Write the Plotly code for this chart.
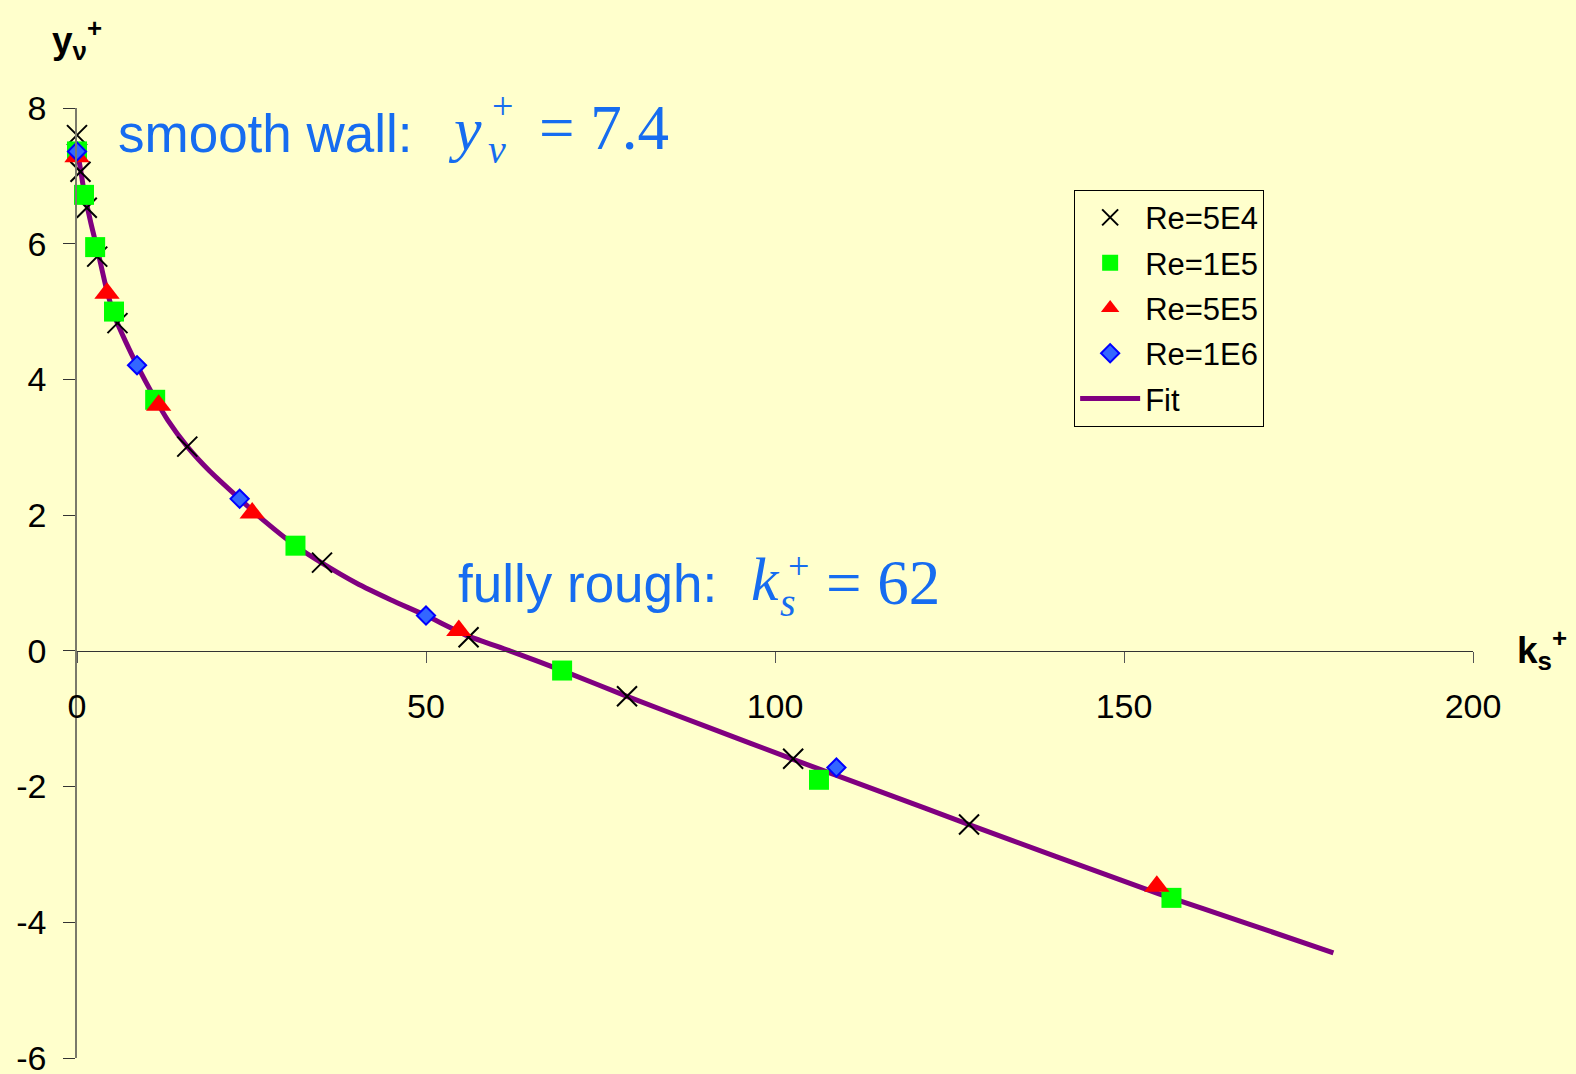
import plotly.graph_objects as go

# Measured points for each Reynolds number (ks+ , yv+)
ks_5e4 = [0.0, 0.5, 1.4, 2.9, 5.8, 15.8, 35.1, 56.1, 78.8, 102.6, 127.8]
yv_5e4 = [7.60, 7.06, 6.53, 5.81, 4.83, 3.01, 1.30, 0.20, -0.67, -1.59, -2.56]

ks_1e5 = [0.0, 1.0, 2.6, 5.3, 11.2, 31.3, 69.5, 106.3, 156.8]
yv_1e5 = [7.36, 6.72, 5.95, 5.00, 3.70, 1.55, -0.29, -1.90, -3.64]

ks_5e5 = [0.0, 4.3, 11.7, 25.1, 54.7, 154.7]
yv_5e5 = [7.28, 5.27, 3.62, 2.03, 0.30, -3.47]

ks_1e6 = [0.0, 8.6, 23.3, 50.0, 108.8]
yv_1e6 = [7.36, 4.21, 2.24, 0.52, -1.72]

# Fit curve, sampled along its length
ks_fit = [0, 0.5, 1, 2, 3, 4.3, 5.5, 7, 8.6, 11, 13, 15.8, 19, 23.3, 27, 31.3,
          35, 40, 45, 50, 56, 62, 70, 78.8, 90, 102.6, 115, 127.8, 140, 155, 168, 180]
yv_fit = [7.40, 7.10, 6.78, 6.30, 5.88, 5.30, 4.90, 4.55, 4.21, 3.75, 3.40, 3.01,
          2.65, 2.24, 1.90, 1.55, 1.30, 1.00, 0.75, 0.52, 0.22, 0.00, -0.31, -0.67,
          -1.11, -1.60, -2.07, -2.56, -3.02, -3.58, -4.03, -4.45]

x_ticks = [0, 50, 100, 150, 200]
y_ticks = [8, 6, 4, 2, 0, -2, -4, -6]

BG = "#FFFFCC"
BLUE = "rgb(22,108,240)"
SANS = "Liberation Sans, Arial, sans-serif"
SERIF = "Liberation Serif, Times New Roman, serif"

W, H = 1576, 1074
L, T, R, B = 76.5, 108.3, 1473.0, 1058.3


def px(x):
    return (x - L) / (R - L)


def py(y):
    return (B - y) / (B - T)


fig = go.Figure()

fig.add_trace(go.Scatter(
    x=ks_fit, y=yv_fit, mode="lines", name="Fit",
    line=dict(color="#800080", width=5, shape="spline", smoothing=0.6),
    legendgroup="fit", legendrank=1005, cliponaxis=False,
))
fig.add_trace(go.Scatter(
    x=ks_5e4, y=yv_5e4, mode="markers", name="Re=5E4",
    marker=dict(symbol="x-thin-open", size=20, color="black",
                line=dict(color="black", width=2)),
    legendgroup="a", legendrank=1001, cliponaxis=False,
))
fig.add_trace(go.Scatter(
    x=ks_1e5, y=yv_1e5, mode="markers", name="Re=1E5",
    marker=dict(symbol="square", size=20, color="#00FF00",
                line=dict(color="#00FF00", width=0)),
    legendgroup="b", legendrank=1002, cliponaxis=False,
))
fig.add_trace(go.Scatter(
    x=ks_5e5, y=yv_5e5, mode="markers", name="Re=5E5",
    marker=dict(symbol="triangle-up", size=22, color="#FF0000",
                line=dict(color="#FF0000", width=0)),
    legendgroup="c", legendrank=1003, cliponaxis=False,
))
fig.add_trace(go.Scatter(
    x=ks_1e6, y=yv_1e6, mode="markers", name="Re=1E6",
    marker=dict(symbol="diamond", size=14, color="#3366FF",
                line=dict(color="#0000FF", width=2)),
    legendgroup="d", legendrank=1004, cliponaxis=False,
))

annotations = [
    # axis titles
    dict(x=px(49), y=py(40), text="<b>y<sub>ν</sub><sup>+</sup></b>",
         font=dict(family=SANS, size=37, color="black"), xanchor="left", yanchor="middle"),
    dict(x=px(1515), y=py(650), text="<b>k<sub>s</sub><sup>+</sup></b>",
         font=dict(family=SANS, size=37, color="black"), xanchor="left", yanchor="middle"),
    # smooth wall label
    dict(x=px(116), y=py(134), text="smooth wall:",
         font=dict(family=SANS, size=53, color=BLUE), xanchor="left", yanchor="middle"),
    dict(x=px(446), y=py(129), text="<i>y</i>",
         font=dict(family=SERIF, size=62, color=BLUE), xanchor="left", yanchor="middle"),
    dict(x=px(497), y=py(150), text="<i>ν</i>",
         font=dict(family=SERIF, size=40, color=BLUE), xanchor="center", yanchor="middle"),
    dict(x=px(502), y=py(106), text="+",
         font=dict(family=SERIF, size=38, color=BLUE), xanchor="center", yanchor="middle"),
    dict(x=px(537), y=py(128), text="= 7.4",
         font=dict(family=SERIF, size=63, color=BLUE), xanchor="left", yanchor="middle"),
    # fully rough label
    dict(x=px(456), y=py(584), text="fully rough:",
         font=dict(family=SANS, size=53, color=BLUE), xanchor="left", yanchor="middle"),
    dict(x=px(749), y=py(579), text="<i>k</i>",
         font=dict(family=SERIF, size=62, color=BLUE), xanchor="left", yanchor="middle"),
    dict(x=px(788), y=py(603), text="<i>s</i>",
         font=dict(family=SERIF, size=40, color=BLUE), xanchor="center", yanchor="middle"),
    dict(x=px(798), y=py(566), text="+",
         font=dict(family=SERIF, size=38, color=BLUE), xanchor="center", yanchor="middle"),
    dict(x=px(824), y=py(583), text="= 62",
         font=dict(family=SERIF, size=63, color=BLUE), xanchor="left", yanchor="middle"),
]
for a in annotations:
    a.update(xref="paper", yref="paper", showarrow=False)

fig.update_layout(
    width=W, height=H,
    paper_bgcolor=BG, plot_bgcolor=BG,
    margin=dict(l=L, r=W - R, t=T, b=H - B, pad=0),
    font=dict(family=SANS, size=34, color="black"),
    showlegend=True,
    legend=dict(
        x=px(1074), y=py(190), xanchor="left", yanchor="top",
        bgcolor=BG, bordercolor="black", borderwidth=1,
        font=dict(family=SANS, size=31, color="black"),
        tracegroupgap=2, itemwidth=60,
    ),
    annotations=annotations,
)

fig.update_xaxes(
    range=[0, 200], tickvals=x_ticks, ticktext=[str(v) for v in x_ticks],
    anchor="free", position=6 / 14,
    showline=True, linecolor="#333333", linewidth=1,
    ticks="outside", ticklen=11, tickwidth=1, tickcolor="#555555",
    ticklabelstandoff=14, ticklabeloverflow="allow",
    showgrid=False, zeroline=False, automargin=False,
    tickfont=dict(family=SANS, size=34, color="black"),
)
fig.update_yaxes(
    range=[-6, 8], tickvals=y_ticks, ticktext=[str(v) for v in y_ticks],
    showline=True, linecolor="#7a7a6a", linewidth=1.5,
    ticks="outside", ticklen=12, tickwidth=1, tickcolor="#333333",
    ticklabelstandoff=10, ticklabeloverflow="allow",
    showgrid=False, zeroline=False, automargin=False,
    tickfont=dict(family=SANS, size=34, color="black"),
)

fig.write_html("out.html")
